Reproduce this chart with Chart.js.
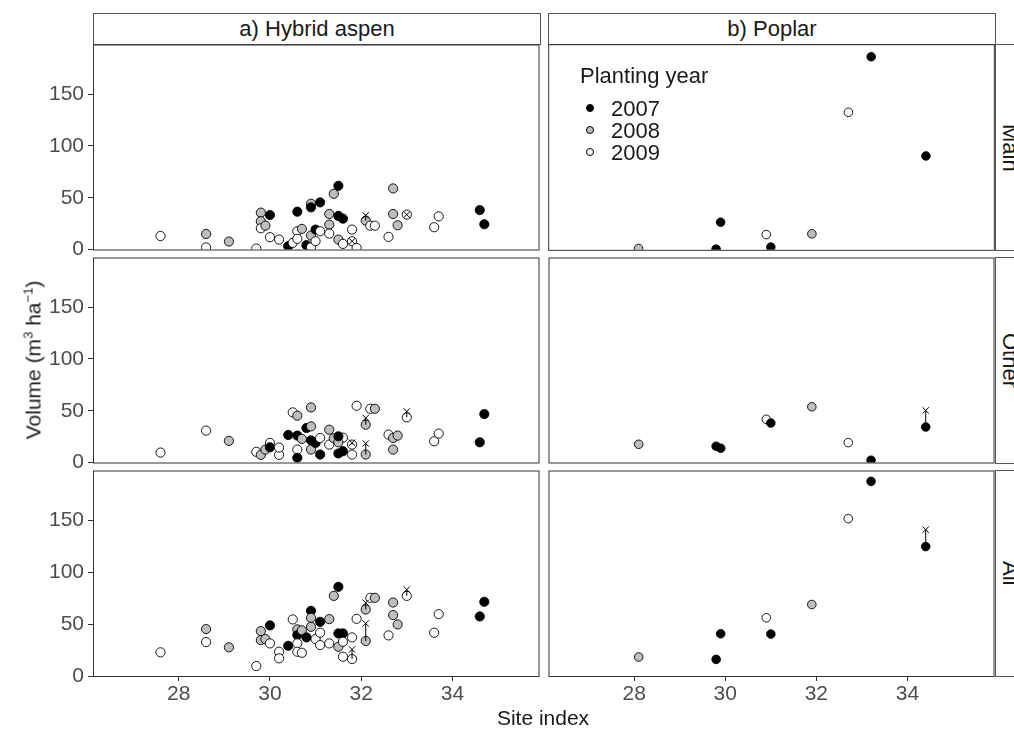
<!DOCTYPE html>
<html>
<head>
<meta charset="utf-8">
<script src="https://cdn.jsdelivr.net/npm/chart.js@4.4.1/dist/chart.umd.min.js"></script>
<style>
  body { margin: 0; background: #fff; }
  #wrap { position: relative; width: 1014px; height: 732px; overflow: hidden; font-family: "Liberation Sans", Arial, sans-serif; color: #1a1a1a; }
  canvas { position: absolute; }
  .strip { position: absolute; box-sizing: border-box; border: 1px solid #555; background: #fff;
    display: flex; align-items: center; justify-content: center; font-size: 22px; }
  .side { writing-mode: vertical-rl; }
  .lab { position: absolute; white-space: nowrap; }
  .dot { position: absolute; width: 8px; height: 8px; border-radius: 50%; box-sizing: border-box; border: 1px solid #000; }
</style>
</head>
<body>
<div id="wrap">
  <div class="strip" style="left:93px;top:13px;width:448px;height:32px">a) Hybrid aspen</div>
  <div class="strip" style="left:548px;top:13px;width:448px;height:32px">b) Poplar</div>
  <div class="strip side" style="left:995px;top:44px;width:29px;height:207px">Main</div>
  <div class="strip side" style="left:995px;top:257px;width:29px;height:207px">Other</div>
  <div class="strip side" style="left:995px;top:470px;width:29px;height:207px">All</div>

  <canvas id="aMain"></canvas>
  <canvas id="aOther"></canvas>
  <canvas id="aAll"></canvas>
  <canvas id="pMain"></canvas>
  <canvas id="pOther"></canvas>
  <canvas id="pAll"></canvas>

  <div class="lab" style="left:33px;top:360px;font-size:21px;transform:translate(-50%,-50%) rotate(-90deg)">Volume (m<sup style="font-size:13px">3</sup> ha<sup style="font-size:13px">&minus;1</sup>)</div>
  <div class="lab" style="left:543px;top:718px;font-size:21px;transform:translate(-50%,-50%)">Site index</div>

  <div class="lab" style="left:580px;top:63px;font-size:22px">Planting year</div>
  <div class="dot" style="left:586px;top:104px;background:#000"></div>
  <div class="dot" style="left:586px;top:126px;background:#bebebe"></div>
  <div class="dot" style="left:586px;top:148px;background:#fff"></div>
  <div class="lab" style="left:611px;top:96px;font-size:22px">2007</div>
  <div class="lab" style="left:611px;top:118px;font-size:22px">2008</div>
  <div class="lab" style="left:611px;top:140px;font-size:22px">2009</div>
</div>

<script>
// site index, volume (m3/ha), planting year
const aspenMain = [
  [27.6, 13, 2009], [28.6, 15, 2008], [28.6, 2, 2009], [29.1, 7.7, 2008], [29.7, 1, 2009],
  [29.8, 35.6, 2008], [29.8, 27.2, 2008], [29.8, 20.5, 2009], [29.9, 23, 2008], [30.0, 33.3, 2007],
  [30.0, 11.9, 2009], [30.2, 9.6, 2009], [30.4, 3.2, 2007], [30.5, 6.4, 2009], [30.6, 36.5, 2007],
  [30.6, 17.6, 2009], [30.6, 10.3, 2009], [30.7, 19.9, 2008], [30.8, 4.2, 2007], [30.9, 44.2, 2008],
  [30.9, 40.7, 2007], [30.9, 13.5, 2008], [30.9, 2, 2009], [31.0, 19.2, 2007], [31.0, 8, 2009],
  [31.1, 45.5, 2007], [31.1, 17.6, 2009], [31.3, 34.3, 2008], [31.3, 24, 2008], [31.3, 15.4, 2009],
  [31.4, 53.8, 2008], [31.5, 61.5, 2007], [31.5, 32.4, 2007], [31.6, 29.8, 2007], [31.5, 9.6, 2008],
  [31.6, 5.4, 2009], [31.8, 19.2, 2009], [31.8, 8, 2009], [31.9, 1.6, 2009], [32.1, 27.9, 2008],
  [32.2, 23, 2009], [32.3, 23, 2009], [32.6, 12.2, 2009], [32.7, 59, 2008], [32.7, 34.3, 2008],
  [32.8, 23.4, 2008], [33.0, 33.7, 2009], [33.6, 21.5, 2009], [33.7, 32, 2009], [34.6, 38.1, 2007],
  [34.7, 24.4, 2007]
];
const aspenOther = [
  [27.6, 9.6, 2009], [28.6, 30.8, 2009], [29.1, 20.9, 2008], [29.7, 10.3, 2009], [29.8, 7.4, 2008],
  [29.9, 12.5, 2008], [30.0, 18.9, 2009], [30.0, 14.7, 2007], [30.2, 7.4, 2009], [30.2, 14.4, 2009],
  [30.4, 26.6, 2007], [30.5, 48.4, 2009], [30.6, 45.2, 2008], [30.6, 26, 2007], [30.6, 12.5, 2009],
  [30.6, 4.5, 2007], [30.7, 22.8, 2008], [30.8, 33.3, 2007], [30.9, 53.2, 2008], [30.9, 34.9, 2008],
  [30.9, 21.4, 2007], [30.9, 12.5, 2008], [31.0, 18.9, 2007], [31.1, 23.7, 2009], [31.1, 7.7, 2007],
  [31.3, 31.7, 2008], [31.3, 17.3, 2009], [31.4, 23.4, 2008], [31.6, 24, 2009], [31.5, 19.5, 2008],
  [31.5, 25.3, 2007], [31.5, 8.7, 2007], [31.6, 10.9, 2007], [31.8, 17.3, 2009], [31.8, 7.7, 2009],
  [31.9, 54.8, 2009], [32.1, 36.5, 2008], [32.1, 7.7, 2008], [32.2, 51.9, 2009], [32.3, 51.9, 2008],
  [32.6, 26.9, 2009], [32.7, 23.7, 2008], [32.8, 26, 2008], [32.7, 12.5, 2008], [33.0, 43.6, 2009],
  [33.6, 20.5, 2009], [33.7, 27.9, 2009], [34.6, 19.5, 2007], [34.7, 46.8, 2007]
];
const aspenAll = [
  [27.6, 22.8, 2009], [28.6, 45.2, 2008], [28.6, 32.7, 2009], [29.1, 27.6, 2008], [29.7, 9.6, 2009],
  [29.8, 43.3, 2008], [29.8, 34.6, 2008], [29.9, 35.6, 2008], [30.0, 48.7, 2007], [30.0, 31.4, 2009],
  [30.2, 23.4, 2009], [30.2, 17, 2009], [30.4, 29.1, 2007], [30.5, 54.5, 2009], [30.6, 44.9, 2008],
  [30.6, 39.4, 2007], [30.6, 31.4, 2009], [30.6, 23.4, 2009], [30.7, 44, 2008], [30.7, 22.4, 2009],
  [30.8, 37.2, 2007], [30.9, 62.8, 2007], [30.9, 56, 2008], [30.9, 47.4, 2008], [31.0, 35.6, 2009],
  [31.1, 52.2, 2007], [31.1, 41.7, 2009], [31.1, 29.8, 2009], [31.3, 54.8, 2008], [31.3, 31.4, 2009],
  [31.4, 77.2, 2008], [31.5, 85.9, 2007], [31.5, 41, 2007], [31.6, 41, 2007], [31.5, 28.2, 2008],
  [31.6, 33, 2009], [31.6, 18.6, 2009], [31.8, 37.2, 2009], [31.8, 16.3, 2009], [31.9, 55.1, 2009],
  [32.1, 64.1, 2008], [32.1, 33.7, 2008], [32.2, 75.3, 2009], [32.3, 75.3, 2008], [32.6, 39.1, 2009],
  [32.7, 70.8, 2008], [32.7, 58.7, 2008], [32.8, 49.7, 2008], [33.0, 77.2, 2009], [33.6, 41.7, 2009],
  [33.7, 59.6, 2009], [34.6, 57.4, 2007], [34.7, 71.5, 2007]
];
const poplarMain = [
  [28.1, 1.3, 2008], [29.8, 0.7, 2007], [29.9, 26.6, 2007], [30.9, 14.7, 2009], [31.0, 2.6, 2007],
  [31.9, 15.4, 2008], [32.7, 132.4, 2009], [33.2, 185.9, 2007], [34.4, 90.4, 2007]
];
const poplarOther = [
  [28.1, 17.6, 2008], [29.8, 15.7, 2007], [29.9, 13.8, 2007], [30.9, 41.7, 2009], [31.0, 38.1, 2007],
  [31.9, 53.8, 2008], [32.7, 19.2, 2009], [33.2, 2.2, 2007], [34.4, 34.3, 2007]
];
const poplarAll = [
  [28.1, 18.3, 2008], [29.8, 16, 2007], [29.9, 40.7, 2007], [30.9, 56.1, 2009], [31.0, 40.4, 2007],
  [31.9, 68.9, 2008], [32.7, 151.6, 2009], [33.2, 187.5, 2007], [34.4, 124.7, 2007]
];
// site index, plotted volume, marked (x) volume
const aspenMainMarks = [[31.8, 8, 8], [32.1, 27.9, 33], [33.0, 33.7, 33.7]];
const aspenOtherMarks = [[31.8, 17.3, 19], [32.1, 36.5, 43], [32.1, 7.7, 18.3], [33.0, 43.6, 49.3]];
const aspenAllMarks = [[31.8, 16.3, 25.6], [32.1, 64.1, 70.5], [32.1, 33.7, 50.6], [33.0, 77.2, 83.3]];
const poplarMainMarks = [];
const poplarOtherMarks = [[34.4, 34.3, 50.3]];
const poplarAllMarks = [[34.4, 124.7, 141]];

const xTicks = [28, 30, 32, 34];
const yTicks = [0, 50, 100, 150];

const fills = { 2007: '#000000', 2008: '#bebebe', 2009: '#ffffff' };
const font = { family: '"Liberation Sans", Arial, sans-serif', size: 21 };

const panelBorder = {
  id: 'panelBorder',
  afterDraw(chart) {
    const { ctx, chartArea: a } = chart;
    ctx.save();
    ctx.strokeStyle = '#333';
    ctx.lineWidth = 1;
    ctx.strokeRect(a.left + 0.5, a.top + 0.5, a.right - a.left - 1, a.bottom - a.top);
    ctx.restore();
  }
};

// keep edge labels from shrinking the panel
function noPad(s) {
  s.paddingTop = 0;
  s.paddingBottom = 0;
  s.paddingLeft = 0;
  s.paddingRight = 0;
}

function makePanel(id, pts, marks, col, row, r) {
  const canvas = document.getElementById(id);
  const top = [44, 257, 470][row];
  const bottom = row === 2;
  const left = col === 0;
  const w = left ? 545 : 457;
  const h = bottom ? 5 + 206 + 40 : 216;
  canvas.width = w;
  canvas.height = h;
  canvas.style.left = (left ? 0 : 543) + 'px';
  canvas.style.top = (top - 5) + 'px';

  const segs = [];
  marks.forEach(([x, y0, y1]) => segs.push({ x, y: y0 }, { x, y: y1 }, { x, y: null }));

  const tickGrid = { display: true, drawOnChartArea: false, drawTicks: true, tickLength: 5, color: '#333', lineWidth: 1 };

  return new Chart(canvas, {
    type: 'scatter',
    data: {
      datasets: [
        { data: marks.map(([x, , y1]) => ({ x, y: y1 })), pointStyle: 'crossRot', pointRadius: 4.5,
          borderColor: '#000', backgroundColor: '#000', borderWidth: 1 },
        { type: 'line', data: segs, showLine: true, spanGaps: false, pointRadius: 0,
          borderColor: '#000', borderWidth: 1 },
        { data: pts.map(([x, y, year]) => ({ x, y, year })), pointRadius: r,
          borderColor: '#000', borderWidth: 0.9,
          backgroundColor: c => fills[c.raw ? c.raw.year : 2009] }
      ]
    },
    options: {
      responsive: false,
      animation: false,
      events: [],
      layout: { padding: { top: 5, bottom: bottom ? 0 : 5, left: left ? 0 : 5, right: 5 } },
      plugins: { legend: { display: false }, tooltip: { enabled: false } },
      scales: {
        x: {
          type: 'linear', min: 26.12, max: 35.91, display: bottom,
          afterBuildTicks: s => { s.ticks = xTicks.map(v => ({ value: v })); },
          afterFit: bottom ? s => { s.height = 40; noPad(s); } : undefined,
          grid: tickGrid, border: { display: false },
          ticks: { padding: 1, color: '#4d4d4d', font, maxRotation: 0, autoSkip: false }
        },
        y: {
          type: 'linear', min: 0, max: 198, display: left,
          afterBuildTicks: s => { s.ticks = yTicks.map(v => ({ value: v })); },
          afterFit: left ? s => { s.width = 93; noPad(s); } : undefined,
          grid: tickGrid, border: { display: false },
          ticks: { padding: 4, color: '#4d4d4d', font, autoSkip: false }
        }
      }
    },
    plugins: [panelBorder]
  });
}

makePanel('aMain', aspenMain, aspenMainMarks, 0, 0, 4.6);
makePanel('aOther', aspenOther, aspenOtherMarks, 0, 1, 4.6);
makePanel('aAll', aspenAll, aspenAllMarks, 0, 2, 4.6);
makePanel('pMain', poplarMain, poplarMainMarks, 1, 0, 4.3);
makePanel('pOther', poplarOther, poplarOtherMarks, 1, 1, 4.3);
makePanel('pAll', poplarAll, poplarAllMarks, 1, 2, 4.3);
</script>
</body>
</html>
